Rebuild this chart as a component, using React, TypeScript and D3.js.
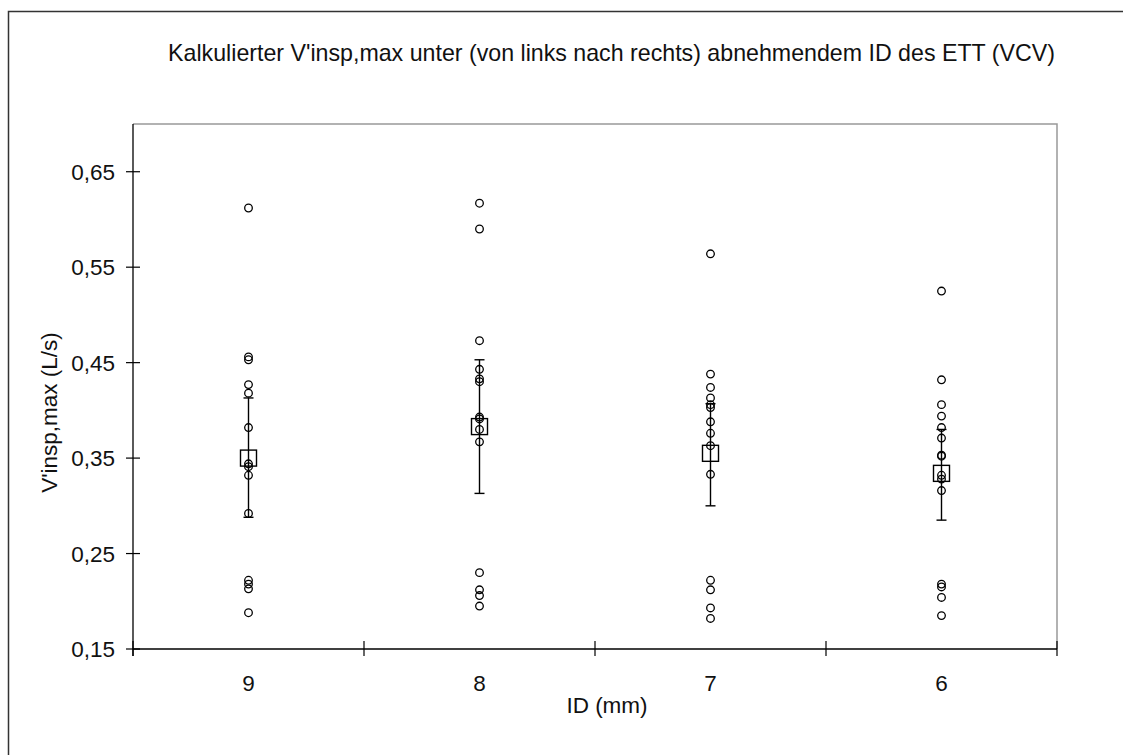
import React from "react";
import * as d3 from "d3";

// Endotracheal tube inner diameters (mm), left to right
const categories = ["9", "8", "7", "6"];

// Individual calculated peak inspiratory flows (L/s) per tube size
const values9 = [0.612, 0.456, 0.453, 0.427, 0.418, 0.382, 0.344, 0.341, 0.332, 0.292, 0.222, 0.218, 0.213, 0.188];
const values8 = [0.617, 0.59, 0.473, 0.443, 0.433, 0.43, 0.393, 0.391, 0.38, 0.367, 0.23, 0.212, 0.206, 0.195];
const values7 = [0.564, 0.438, 0.424, 0.413, 0.406, 0.403, 0.388, 0.376, 0.363, 0.333, 0.222, 0.212, 0.193, 0.182];
const values6 = [0.525, 0.432, 0.406, 0.394, 0.382, 0.371, 0.353, 0.352, 0.332, 0.328, 0.316, 0.218, 0.215, 0.204, 0.185];

// Group means with lower / upper error bar limits
const means = [0.35, 0.383, 0.355, 0.334];
const lowers = [0.288, 0.313, 0.3, 0.285];
const uppers = [0.413, 0.453, 0.407, 0.38];

const yTicks = [0.15, 0.25, 0.35, 0.45, 0.55, 0.65];

const title = "Kalkulierter V'insp,max unter (von links nach rechts) abnehmendem ID des ETT (VCV)";
const yTitle = "V'insp,max (L/s)";
const xTitle = "ID (mm)";

const W = 1123;
const H = 755;
const FONT = "'Liberation Sans', Arial, Helvetica, sans-serif";
const FS = 22.5;

export default function App() {
  const plot = { left: 133, right: 1057, top: 124, bottom: 649 };
  const x = d3.scaleBand<string>().domain(categories).range([plot.left, plot.right]).padding(0);
  const y = d3.scaleLinear().domain([0.15, 0.7]).range([plot.bottom, plot.top]);
  const groups = [values9, values8, values7, values6];
  const fmt = (v: number) => d3.format(".2f")(v).replace(".", ",");
  const cx = (c: string) => (x(c) as number) + x.bandwidth() / 2;
  const xBounds = [plot.left, ...categories.map((c) => (x(c) as number) + x.bandwidth())];

  return (
    <svg
      width={W}
      height={H}
      style={{ position: "absolute", left: 0, top: 0, background: "#fff" }}
      fontFamily={FONT}
    >
      {/* outer chart frame */}
      <rect x={8.5} y={11.5} width={1200} height={900} fill="none" stroke="#333" strokeWidth={1.5} />

      <text x={611.5} y={61} textAnchor="middle" fontSize={23.2} fill="#111">
        {title}
      </text>

      {/* plot area border (top/right) */}
      <path
        d={`M${plot.left},${plot.top}H${plot.right}V${plot.bottom}`}
        fill="none"
        stroke="#999"
        strokeWidth={1.5}
      />

      {/* y axis */}
      <line x1={plot.left} x2={plot.left} y1={plot.top} y2={plot.bottom + 7} stroke="#000" strokeWidth={1.3} />
      {yTicks.map((t) => (
        <g key={t}>
          <line x1={plot.left - 7} x2={plot.left + 7} y1={y(t)} y2={y(t)} stroke="#000" strokeWidth={1.2} />
          <text x={115} y={y(t) + 8} textAnchor="end" fontSize={FS} fill="#111">
            {fmt(t)}
          </text>
        </g>
      ))}

      {/* x axis */}
      <line x1={plot.left} x2={plot.right} y1={plot.bottom} y2={plot.bottom} stroke="#000" strokeWidth={1.3} />
      {xBounds.map((b, i) => (
        <line key={i} x1={b} x2={b} y1={plot.bottom - 8} y2={plot.bottom + 7} stroke="#000" strokeWidth={1.2} />
      ))}
      {categories.map((c) => (
        <text key={c} x={cx(c)} y={691} textAnchor="middle" fontSize={FS} fill="#111">
          {c}
        </text>
      ))}

      <text x={607} y={713} textAnchor="middle" fontSize={FS} fill="#111">
        {xTitle}
      </text>
      <text
        transform={`translate(57,${(plot.top + plot.bottom) / 2 + 26}) rotate(-90)`}
        textAnchor="middle"
        fontSize={FS}
        fill="#111"
      >
        {yTitle}
      </text>

      {/* error bars and means */}
      {categories.map((c, i) => (
        <g key={c} stroke="#000" strokeWidth={1.4} fill="none">
          <line x1={cx(c)} x2={cx(c)} y1={y(lowers[i])} y2={y(uppers[i])} />
          <line x1={cx(c) - 5} x2={cx(c) + 5} y1={y(lowers[i])} y2={y(lowers[i])} />
          <line x1={cx(c) - 5} x2={cx(c) + 5} y1={y(uppers[i])} y2={y(uppers[i])} />
          <rect x={cx(c) - 8} y={y(means[i]) - 8} width={16} height={16} />
        </g>
      ))}

      {/* individual measurements */}
      {categories.map((c, i) => (
        <g key={c} stroke="#000" strokeWidth={1.3} fill="none">
          {groups[i].map((v, j) => (
            <circle key={j} cx={cx(c)} cy={y(v)} r={3.8} />
          ))}
        </g>
      ))}
    </svg>
  );
}
